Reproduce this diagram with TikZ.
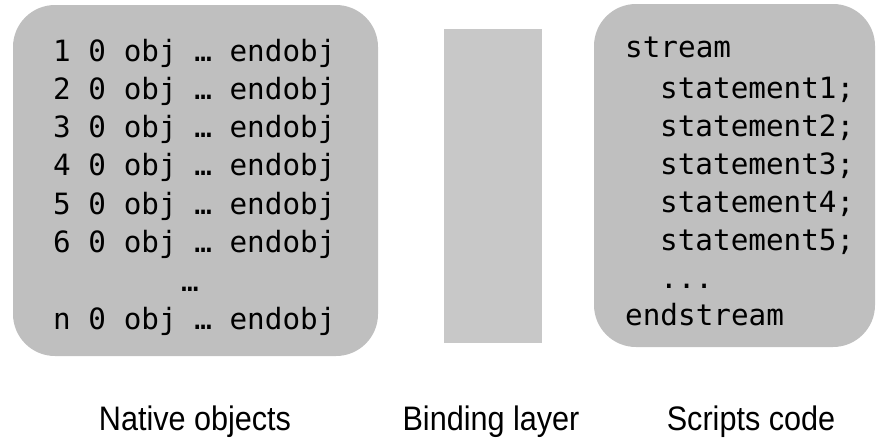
\documentclass[tikz,border=0pt]{standalone}
\usepackage{fontspec}
\newfontfamily\codefont{DejaVu Sans Mono}
\newfontfamily\labelfont{Liberation Sans}
\definecolor{boxgray}{HTML}{BFBFBF}
\definecolor{layergray}{HTML}{C8C8C8}
\begin{document}
\begin{tikzpicture}[x=1pt,y=-1pt,
  panel/.style={fill=boxgray, draw=none, rounded corners=42pt, inner sep=0pt, outer sep=0pt},
  layer/.style={fill=layergray, draw=none, inner sep=0pt, outer sep=0pt},
  code/.style={inner sep=0pt, anchor=base west, font=\codefont\fontsize{29.3}{31}\selectfont},
  caption/.style={inner sep=0pt, anchor=base, xscale=0.9, font=\labelfont\fontsize{34}{36}\selectfont}]
  \useasboundingbox (0,0) rectangle (880,437);

  % three blocks
  \node[panel, minimum width=365pt, minimum height=351pt] (native) at (195.5,180.5) {};
  \node[layer, minimum width=98pt, minimum height=314pt] (binding) at (493,186) {};
  \node[panel, minimum width=281pt, minimum height=343pt] (scripts) at (734.5,175.5) {};

  % object table
  \foreach \n [count=\i from 0] in {1,2,3,4,5,6}
    \node[code] (obj\n) at (53,61+38.3*\i) {\n{} 0 obj … endobj};
  \node[code, anchor=base] (objdots) at (190,291) {…};
  \node[code] (objn) at (53,329) {n 0 obj … endobj};

  % stream body
  \node[code] (stream) at (625,57) {stream};
  \foreach \n/\y in {1/98,2/136,3/174,4/212,5/250}
    \node[code] (stmt\n) at (660,\y) {statement\n;};
  \node[code] (stmtdots) at (660,288) {...};
  \node[code] (endstream) at (625,325) {endstream};

  % captions
  \node[caption] (lnative) at (195,430) {Native objects};
  \node[caption] (lbinding) at (491,430) {Binding layer};
  \node[caption] (lscripts) at (751,430) {Scripts code};
\end{tikzpicture}
\end{document}
